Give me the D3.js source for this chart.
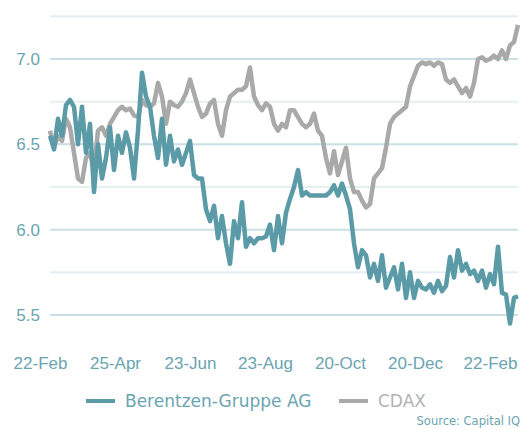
<!DOCTYPE html>
<html>
<head>
<meta charset="utf-8">
<script src="https://cdn.jsdelivr.net/npm/d3@7"></script>
<style>
  body { margin: 0; background: #fff; }
  svg { display: block; font-family: "DejaVu Sans", "Open Sans", sans-serif; }
</style>
</head>
<body>
<svg id="chart" width="524" height="429"></svg>
<script>
// values, roughly one point every few trading days
const berentzen = [
  6.55, 6.47, 6.65, 6.55, 6.73, 6.76, 6.72, 6.5, 6.72, 6.45,
  6.62, 6.22, 6.5, 6.3, 6.42, 6.6, 6.35, 6.55, 6.45, 6.57,
  6.48, 6.3, 6.58, 6.92, 6.78, 6.72, 6.55, 6.42, 6.65, 6.38,
  6.55, 6.4, 6.47, 6.38, 6.45, 6.52, 6.32, 6.3, 6.3, 6.12,
  6.05, 6.14, 5.95, 6.08, 5.92, 5.8, 6.05, 5.95, 6.16, 5.9,
  5.95, 5.92, 5.95, 5.95, 5.96, 6.03, 5.88, 6.08, 5.92, 6.1,
  6.18, 6.25, 6.35, 6.2, 6.22, 6.2, 6.2, 6.2, 6.2, 6.2,
  6.22, 6.26, 6.2, 6.27, 6.2, 6.12, 5.92, 5.78, 5.88, 5.85,
  5.72, 5.8, 5.7, 5.85, 5.66, 5.72, 5.78, 5.65, 5.8, 5.6,
  5.75, 5.6, 5.7, 5.66, 5.65, 5.68, 5.63, 5.7, 5.64, 5.67,
  5.84, 5.72, 5.88, 5.76, 5.8, 5.74, 5.76, 5.7, 5.76, 5.66,
  5.74, 5.68, 5.9, 5.63, 5.62, 5.45, 5.6, 5.61
]
const cdax = [
  6.58, 6.48, 6.55, 6.52, 6.65, 6.6, 6.45, 6.3, 6.28, 6.42,
  6.45, 6.35, 6.58, 6.6, 6.55, 6.62, 6.66, 6.7, 6.72, 6.7,
  6.71, 6.67, 6.66, 6.76, 6.73, 6.72, 6.74, 6.86, 6.78, 6.62,
  6.75, 6.73, 6.72, 6.75, 6.8, 6.88, 6.8, 6.72, 6.66, 6.68,
  6.74, 6.76, 6.62, 6.55, 6.7, 6.78, 6.8, 6.82, 6.82, 6.84,
  6.95, 6.78, 6.73, 6.7, 6.74, 6.72, 6.62, 6.58, 6.62, 6.6,
  6.7, 6.7, 6.66, 6.62, 6.6, 6.62, 6.68, 6.58, 6.55, 6.42,
  6.33, 6.46, 6.32, 6.4, 6.48, 6.3, 6.22, 6.22, 6.17, 6.13,
  6.15, 6.3, 6.33, 6.36, 6.48, 6.62, 6.66, 6.68, 6.7, 6.72,
  6.84, 6.9, 6.96, 6.98, 6.97, 6.98, 6.96, 6.98, 6.97, 6.88,
  6.86, 6.88, 6.84, 6.8, 6.83, 6.78, 6.86, 7.0, 7.01, 6.99,
  7.0, 7.02, 7.0, 7.05, 7.0, 7.08, 7.1, 7.2
]
const dateLabels = ["22-Feb", "25-Apr", "23-Jun", "23-Aug", "20-Oct", "20-Dec", "22-Feb "]
const majorTicks = [5.5, 6.0, 6.5, 7.0]
const minorTicks = [5.75, 6.25, 6.75, 7.25]
const seriesNames = ["Berentzen-Gruppe AG", "CDAX"]

const teal = "#5b9aa7"
const grey = "#a9a9a9"
const labelColor = "#6aa4b1"

const svg = d3.select("#chart")

const x = d3.scaleLinear().domain([0, berentzen.length - 1]).range([50, 518])
const y = d3.scaleLinear().domain([5.5, 7.0]).range([315, 59])
const xLabels = d3.scalePoint().domain(dateLabels).range([40, 490])

// grid
svg.append("g")
  .selectAll("line")
  .data(minorTicks)
  .enter()
  .append("line")
    .attr("x1", 50).attr("x2", 518)
    .attr("y1", d => y(d)).attr("y2", d => y(d))
    .attr("stroke", "#e4eff1")
    .attr("stroke-width", 2)

svg.append("g")
  .selectAll("line")
  .data(majorTicks)
  .enter()
  .append("line")
    .attr("x1", 50).attr("x2", 518)
    .attr("y1", d => y(d)).attr("y2", d => y(d))
    .attr("stroke", "#c8dfe4")
    .attr("stroke-width", 2)

// y labels
const yAxis = svg.append("g")
  .attr("transform", "translate(43,0)")
  .call(d3.axisLeft(y).tickValues(majorTicks).tickFormat(d3.format(".1f")).tickSize(0))
yAxis.select(".domain").remove()
yAxis.selectAll("text")
  .attr("fill", labelColor)
  .style("font-size", "17px")
  .attr("dx", "0")

// x labels
const xAxis = svg.append("g")
  .attr("transform", "translate(0,354)")
  .call(d3.axisBottom(xLabels).tickSize(0))
xAxis.select(".domain").remove()
xAxis.selectAll("text")
  .attr("fill", labelColor)
  .style("font-size", "17px")

// lines
const line = d3.line()
  .x((d, i) => x(i))
  .y(d => y(d))

svg.append("path")
  .datum(cdax)
  .attr("fill", "none")
  .attr("stroke", grey)
  .attr("stroke-width", 4.5)
  .attr("stroke-linejoin", "round")
  .attr("d", line)

svg.append("path")
  .datum(berentzen)
  .attr("fill", "none")
  .attr("stroke", teal)
  .attr("stroke-width", 4.5)
  .attr("stroke-linejoin", "round")
  .attr("d", line)

// legend
const legend = [
  {name: seriesNames[0], color: teal, text: labelColor, x: 86},
  {name: seriesNames[1], color: grey, text: "#b3b3b3", x: 339}
]
const lg = svg.append("g").attr("transform", "translate(0,401)")
lg.selectAll("line")
  .data(legend)
  .enter()
  .append("line")
    .attr("x1", d => d.x).attr("x2", d => d.x + 29)
    .attr("y1", 0).attr("y2", 0)
    .attr("stroke", d => d.color)
    .attr("stroke-width", 4)
lg.selectAll("text")
  .data(legend)
  .enter()
  .append("text")
    .attr("x", d => d.x + 39)
    .attr("y", 0)
    .attr("dy", "0.35em")
    .attr("fill", d => d.text)
    .style("font-size", "17px")
    .text(d => d.name)

svg.append("text")
  .attr("x", 520)
  .attr("y", 425)
  .attr("text-anchor", "end")
  .attr("fill", labelColor)
  .style("font-size", "11.5px")
  .text("Source: Capital IQ")
</script>
</body>
</html>
